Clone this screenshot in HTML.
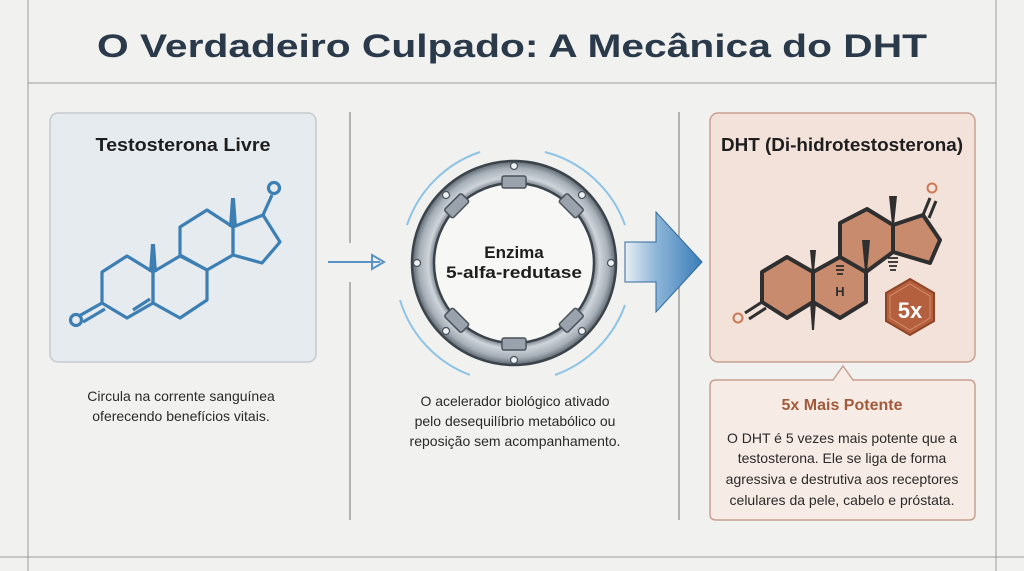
<!DOCTYPE html>
<html><head><meta charset="utf-8"><style>
body{margin:0;width:1024px;height:571px;background:#f1f1ef;overflow:hidden;font-family:"Liberation Sans",sans-serif;}
svg{position:absolute;left:0;top:0}
</style></head><body>
<svg width="1024" height="571" viewBox="0 0 1024 571">
<defs>
<linearGradient id="ag" x1="0" x2="1"><stop offset="0" stop-color="#e8eef4"/><stop offset="0.4" stop-color="#8fb6d8"/><stop offset="1" stop-color="#3a7db8"/></linearGradient>
<radialGradient id="rg" cx="0.5" cy="0.5" r="0.5"><stop offset="0.78" stop-color="#6d7680"/><stop offset="0.84" stop-color="#cfd5db"/><stop offset="0.93" stop-color="#a7afb8"/><stop offset="1" stop-color="#5d656e"/></radialGradient>
</defs>
<line x1="28" y1="0" x2="28" y2="571" stroke="#9a9a9a" stroke-width="1"/>
<line x1="996" y1="0" x2="996" y2="571" stroke="#9a9a9a" stroke-width="1"/>
<line x1="28" y1="83" x2="996" y2="83" stroke="#9a9a9a" stroke-width="1"/>
<line x1="0" y1="557" x2="1024" y2="557" stroke="#9a9a9a" stroke-width="1"/>
<line x1="350" y1="112" x2="350" y2="243" stroke="#888" stroke-width="1.2"/>
<line x1="350" y1="282" x2="350" y2="520" stroke="#888" stroke-width="1.2"/>
<line x1="679" y1="112" x2="679" y2="243" stroke="#888" stroke-width="1.2"/>
<line x1="679" y1="282" x2="679" y2="520" stroke="#888" stroke-width="1.2"/>
<text x="512" y="57" text-anchor="middle" font-size="32" font-weight="bold" fill="#2b3a4a" textLength="830" lengthAdjust="spacingAndGlyphs">O Verdadeiro Culpado: A Mecânica do DHT</text>

<rect x="50" y="113" width="266" height="249" rx="8" fill="#e6ebf0" stroke="#c5cad0" stroke-width="1.5"/>
<text x="183" y="151" text-anchor="middle" font-size="18" font-weight="bold" fill="#1e1e1e" textLength="175" lengthAdjust="spacingAndGlyphs">Testosterona Livre</text>
<g fill="none" stroke="#3d7fb3" stroke-width="3.2" stroke-linejoin="round">
<polygon points="102,272 127,256 153,272 153,303 127,318 102,303"/>
<polygon points="153,272 180,256 207,270 207,300 180,318 153,303"/>
<polygon points="180,227 207,210 233,227 233,255 207,270 180,255"/>
<polygon points="233,227 263,215 280,242 262,263 233,255"/>
<line x1="133" y1="310" x2="150" y2="299"/>
<line x1="102" y1="303" x2="79" y2="316"/>
<line x1="105" y1="309" x2="83" y2="322"/>
<line x1="263" y1="215" x2="272" y2="195"/>
<circle cx="274" cy="188" r="5.5"/>
<circle cx="76" cy="320" r="5.5"/>
</g>
<polygon points="149,272 157,272 155,244 151,244" fill="#3d7fb3"/>
<polygon points="229,227 237,227 235,198 231,198" fill="#3d7fb3"/>
<g font-size="14" fill="#2a2a2a" text-anchor="middle">
<text x="181" y="401">Circula na corrente sanguínea</text>
<text x="181" y="421">oferecendo benefícios vitais.</text>
</g>

<line x1="328" y1="262" x2="380" y2="262" stroke="#5a93c5" stroke-width="2"/>
<polygon points="372,255 384,262 372,269" fill="none" stroke="#5a93c5" stroke-width="2"/>

<g fill="none" stroke="#8ec3e6" stroke-width="2">
<path d="M 407 225 A 116 116 0 0 1 480 152"/>
<path d="M 545 152 A 116 116 0 0 1 625 225"/>
<path d="M 625 305 A 116 116 0 0 1 555 375"/>
<path d="M 470 375 A 116 116 0 0 1 400 300"/>
</g>
<circle cx="514" cy="263" r="102" fill="url(#rg)" stroke="#3b434b" stroke-width="2.5"/>
<circle cx="514" cy="263" r="80" fill="#f7f7f5" stroke="#3b434b" stroke-width="2.5"/>
<g fill="#9aa3ad" stroke="#4a525a" stroke-width="1.5">
<rect x="502" y="176" width="24" height="12" rx="2"/>
<rect x="502" y="338" width="24" height="12" rx="2"/>
<rect x="502" y="176" width="24" height="12" rx="2" transform="rotate(45 514 263)"/>
<rect x="502" y="176" width="24" height="12" rx="2" transform="rotate(-45 514 263)"/>
<rect x="502" y="176" width="24" height="12" rx="2" transform="rotate(135 514 263)"/>
<rect x="502" y="176" width="24" height="12" rx="2" transform="rotate(-135 514 263)"/>
</g>
<g fill="#eef2f5" stroke="#4a525a" stroke-width="1.2">
<circle cx="514" cy="166" r="3.5"/><circle cx="514" cy="360" r="3.5"/>
<circle cx="417" cy="263" r="3.5"/><circle cx="611" cy="263" r="3.5"/>
<circle cx="446" cy="195" r="3.5"/><circle cx="582" cy="195" r="3.5"/>
<circle cx="446" cy="331" r="3.5"/><circle cx="582" cy="331" r="3.5"/>
</g>
<text x="514" y="258" text-anchor="middle" font-size="17" font-weight="bold" fill="#1e1e1e">Enzima</text>
<text x="514" y="278" text-anchor="middle" font-size="17" font-weight="bold" fill="#1e1e1e" textLength="136" lengthAdjust="spacingAndGlyphs">5-alfa-redutase</text>
<g font-size="14" fill="#2a2a2a" text-anchor="middle">
<text x="515" y="406">O acelerador biológico ativado</text>
<text x="515" y="426">pelo desequilíbrio metabólico ou</text>
<text x="515" y="446">reposição sem acompanhamento.</text>
</g>

<polygon points="625,242 656,242 656,212 702,262 656,312 656,282 625,282" fill="url(#ag)" stroke="#2e6a9e" stroke-width="1"/>

<rect x="710" y="113" width="265" height="249" rx="8" fill="#f3e2d9" stroke="#c9a090" stroke-width="1.5"/>
<text x="842" y="151" text-anchor="middle" font-size="18" font-weight="bold" fill="#1e1e1e" textLength="242" lengthAdjust="spacingAndGlyphs">DHT (Di-hidrotestosterona)</text>
<g fill="#c98b6e" stroke="#2f2f2f" stroke-width="4" stroke-linejoin="round">
<polygon points="762,272 787,257 813,272 813,302 787,318 762,302"/>
<polygon points="813,272 840,257 866,272 866,302 840,318 813,302"/>
<polygon points="840,223 867,209 893,225 893,252 866,272 840,257"/>
<polygon points="893,225 923,215 940,240 930,263 893,252"/>
</g>
<g stroke="#2f2f2f" stroke-width="3" fill="none">
<line x1="762" y1="302" x2="745" y2="313"/><line x1="766" y1="308" x2="749" y2="319"/>
<line x1="923" y1="215" x2="930" y2="198"/><line x1="929" y1="218" x2="936" y2="201"/>
</g>
<circle cx="738" cy="318" r="4.5" fill="none" stroke="#c97a55" stroke-width="2"/>
<circle cx="932" cy="188" r="4.5" fill="none" stroke="#c97a55" stroke-width="2"/>
<polygon points="810,250 816,250 814,272 812,272" fill="#2f2f2f"/>
<polygon points="810,302 816,302 814,330 812,330" fill="#2f2f2f"/>
<polygon points="862,240 870,240 867,272 865,272" fill="#2f2f2f"/>
<polygon points="889,196 897,196 894,225 892,225" fill="#2f2f2f"/>
<g stroke="#2f2f2f" stroke-width="1.8">
<line x1="836" y1="266" x2="844" y2="266"/><line x1="836" y1="270" x2="844" y2="270"/><line x1="837" y1="274" x2="843" y2="274"/>
<line x1="888" y1="258" x2="898" y2="258"/><line x1="888" y1="262" x2="898" y2="262"/><line x1="889" y1="266" x2="897" y2="266"/><line x1="890" y1="270" x2="896" y2="270"/>
</g>
<text x="840" y="296" text-anchor="middle" font-size="13" font-weight="bold" fill="#2f2f2f">H</text>
<polygon points="910,279 934,293 934,321 910,335 886,321 886,293" fill="#b4603f" stroke="#8e4526" stroke-width="2"/>
<polygon points="910,284 930,296 930,318 910,330 890,318 890,296" fill="none" stroke="#d98d6c" stroke-width="1"/>
<text x="910" y="318" text-anchor="middle" font-size="22" font-weight="bold" fill="#fff">5x</text>

<path d="M 716 380 L 833 380 L 843 366 L 853 380 L 969 380 Q 975 380 975 386 L 975 514 Q 975 520 969 520 L 716 520 Q 710 520 710 514 L 710 386 Q 710 380 716 380 Z" fill="#f7ebe5" stroke="#c9a090" stroke-width="1.5"/>
<text x="842" y="410" text-anchor="middle" font-size="16" font-weight="bold" fill="#a35a3a">5x Mais Potente</text>
<g font-size="14" fill="#2a2a2a" text-anchor="middle">
<text x="842" y="443">O DHT é 5 vezes mais potente que a</text>
<text x="842" y="463">testosterona. Ele se liga de forma</text>
<text x="842" y="484">agressiva e destrutiva aos receptores</text>
<text x="842" y="505">celulares da pele, cabelo e próstata.</text>
</g>
</svg>
</body></html>
